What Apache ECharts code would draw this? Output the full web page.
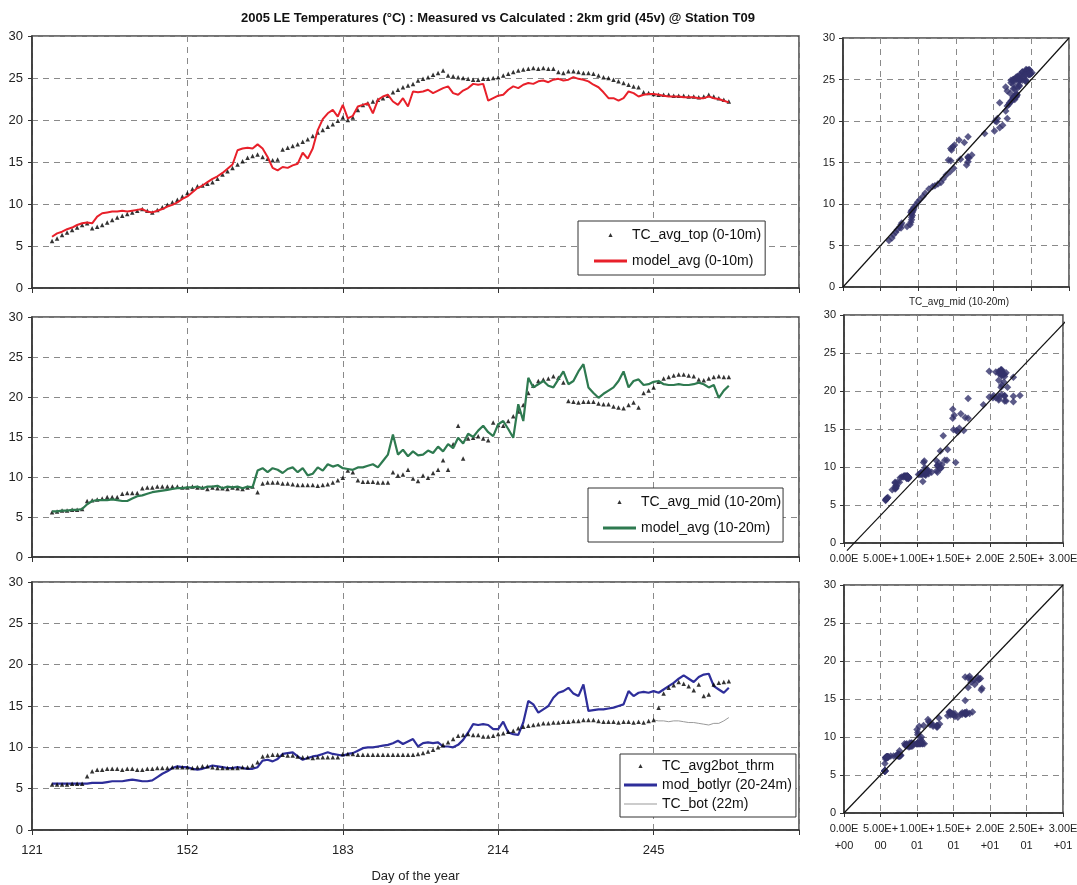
<!DOCTYPE html>
<html><head><meta charset="utf-8">
<script src="https://cdn.jsdelivr.net/npm/echarts@6/dist/echarts.min.js"></script>
<style>html,body{margin:0;padding:0;background:#fff}#c{width:1077px;height:885px}</style>
</head><body><div id="c"></div><script>
// ---------------- data (daily values, first day = DAY0) ----------------
const DAY0 = 125;
const DAY0_TCBOT22 = 245;

const tcAvgTop = [
  5.6,5.9,6.3,6.6,6.9,7.2,7.5,7.7,7.1,7.3,
  7.5,7.8,8.1,8.4,8.6,8.8,9.0,9.2,9.4,9.2,
  9.0,9.3,9.6,9.9,10.2,10.5,10.9,11.3,11.8,12.1,
  12.2,12.4,12.6,13.0,13.5,13.9,14.3,14.7,15.1,15.5,
  15.7,15.9,15.6,15.4,15.2,15.3,16.5,16.7,16.9,17.1,
  17.4,17.7,18.1,18.5,18.8,19.2,19.5,19.9,20.3,20.0,
  20.3,21.2,21.8,22.0,22.2,22.4,22.6,22.9,23.3,23.6,
  23.9,24.1,24.3,24.7,24.9,25.1,25.4,25.6,25.9,25.3,
  25.2,25.1,25.0,24.9,24.8,24.8,24.9,24.9,25.0,25.1,
  25.3,25.5,25.7,25.9,26.0,26.1,26.2,26.1,26.2,26.1,
  26.1,25.7,25.6,25.8,25.8,25.7,25.6,25.6,25.5,25.3,
  25.1,25.0,24.8,24.6,24.4,24.2,24.0,23.9,23.3,23.2,
  23.1,23.0,23.0,23.0,22.9,22.9,22.9,22.8,22.8,22.7,
  22.8,23.0,22.8,22.6,22.4,22.2
];
const modelAvgTop = [
  6.1,6.5,6.7,7.0,7.2,7.5,7.7,7.8,7.7,8.5,
  8.9,9.0,9.1,9.1,9.2,9.1,9.2,9.3,9.4,9.1,
  9.0,9.2,9.4,9.7,9.9,10.2,10.6,10.9,11.4,11.9,
  12.2,12.6,13.0,13.3,13.7,14.2,14.7,16.4,16.6,16.7,
  16.6,17.1,16.6,15.6,14.3,14.0,14.4,14.3,14.6,14.8,
  16.1,15.4,16.6,18.8,20.1,20.8,21.2,20.4,21.8,20.2,
  20.5,21.6,21.8,22.0,20.8,22.4,22.8,23.0,22.2,21.8,
  22.6,21.6,23.4,23.3,23.4,23.6,23.2,23.5,23.8,24.0,
  23.2,23.0,23.5,23.8,24.3,24.2,24.3,22.3,22.6,22.9,
  23.0,23.6,24.0,23.8,24.2,24.4,24.3,24.6,24.7,24.5,
  24.8,24.9,24.7,24.8,25.1,24.9,24.8,24.6,24.2,23.9,
  23.3,22.6,22.6,22.3,22.6,23.4,23.2,22.8,23.0,23.1,
  23.1,23.0,22.9,22.8,22.8,22.8,22.7,22.7,22.7,22.6,
  22.6,22.8,22.6,22.5,22.3,22.1
];
const tcAvgMid = [
  5.6,5.7,5.8,5.8,5.9,5.9,6.0,7.0,7.1,7.2,
  7.3,7.5,7.5,7.5,7.9,8.0,8.0,8.0,8.6,8.7,
  8.7,8.8,8.8,8.8,8.8,8.8,8.7,8.7,8.8,8.7,
  8.7,8.5,8.7,8.6,8.6,8.5,8.7,8.6,8.5,8.7,
  8.8,8.1,9.2,9.3,9.3,9.3,9.2,9.2,9.1,9.0,
  9.0,9.0,9.0,8.9,9.0,9.1,9.3,9.6,9.9,10.8,
  10.6,9.6,9.4,9.4,9.4,9.3,9.3,9.3,10.6,10.2,
  10.3,10.9,9.8,9.5,10.2,9.9,10.5,10.9,12.1,10.9,
  14.1,16.4,12.3,14.8,14.9,15.1,14.8,14.6,16.8,16.5,
  16.4,17.0,17.6,18.2,19.0,20.5,21.4,22.0,22.2,22.3,
  22.6,22.4,21.8,19.5,19.4,19.3,19.4,19.4,19.4,19.2,
  19.1,19.1,18.8,18.7,18.6,19.0,19.3,18.7,20.5,20.8,
  21.2,21.9,22.3,22.5,22.7,22.8,22.8,22.7,22.6,22.2,
  22.1,22.3,22.5,22.6,22.5,22.5
];
const modelAvgMid = [
  5.7,5.7,5.8,5.8,5.9,5.9,6.0,6.6,7.0,7.1,
  7.1,7.1,7.2,7.1,7.0,7.0,7.3,7.6,7.7,7.9,
  8.1,8.2,8.3,8.4,8.5,8.6,8.6,8.7,8.7,8.8,
  8.6,8.8,8.8,8.9,8.6,8.8,8.7,8.8,8.6,8.8,
  8.7,10.8,11.1,10.6,11.1,10.9,10.5,11.0,11.2,10.6,
  11.1,10.2,10.4,11.2,10.8,11.6,11.3,11.5,11.1,11.0,
  10.9,11.2,11.2,11.4,11.6,11.2,12.0,12.8,15.3,12.8,
  13.4,12.6,13.2,12.7,12.8,13.3,13.0,13.8,13.2,14.1,
  13.6,14.9,14.2,15.4,15.0,15.8,16.4,15.6,15.1,16.6,
  17.0,16.0,14.9,19.1,17.0,22.4,21.2,21.6,22.0,21.4,
  21.2,22.2,23.2,21.6,22.0,23.2,24.1,21.2,20.5,19.9,
  20.4,20.8,21.2,22.0,23.2,21.2,22.0,22.2,21.5,21.6,
  21.9,22.0,21.6,21.5,21.5,21.6,21.5,21.5,21.6,21.8,
  21.6,21.2,21.5,19.9,20.8,21.4
];
const tcAvg2botThrm = [
  5.5,5.5,5.5,5.5,5.6,5.6,5.6,6.5,7.1,7.3,
  7.3,7.4,7.4,7.4,7.3,7.4,7.4,7.3,7.3,7.4,
  7.4,7.5,7.5,7.5,7.6,7.6,7.6,7.6,7.5,7.6,
  7.7,7.7,7.6,7.5,7.5,7.5,7.5,7.5,7.6,7.6,
  7.8,8.2,8.9,9.0,9.1,9.1,9.1,9.0,9.0,8.9,
  8.8,8.8,8.7,8.8,8.8,8.8,8.8,8.8,9.2,9.2,
  9.2,9.1,9.1,9.1,9.1,9.1,9.1,9.1,9.1,9.1,
  9.1,9.1,9.1,9.2,9.3,9.5,9.7,10.0,10.3,10.6,
  11.0,11.4,11.5,11.6,11.5,11.5,11.3,11.3,11.4,11.6,
  11.7,11.9,12.0,12.3,12.5,12.6,12.7,12.8,12.9,12.9,
  13.0,13.0,13.1,13.1,13.2,13.2,13.3,13.3,13.3,13.2,
  13.1,13.1,13.1,13.0,13.1,13.1,13.0,13.1,13.0,13.2,
  13.3,14.8,16.5,17.2,17.5,17.9,17.7,17.4,16.9,17.6,
  16.2,16.4,17.6,17.8,17.9,18.0
];
const modBotlyr = [
  5.6,5.6,5.6,5.6,5.6,5.6,5.6,5.6,5.7,5.7,
  5.7,5.8,5.9,5.9,5.9,6.0,6.1,6.0,5.9,5.9,
  6.0,6.4,6.8,7.1,7.5,7.7,7.6,7.6,7.4,7.3,
  7.4,7.6,7.8,7.7,7.6,7.5,7.5,7.6,7.5,7.4,
  7.4,7.6,8.4,8.5,8.3,8.6,9.2,9.3,9.4,8.9,
  8.5,8.7,8.9,9.0,9.2,9.4,9.2,9.1,9.0,9.2,
  9.3,9.6,9.9,10.0,10.0,10.1,10.2,10.3,10.5,10.8,
  10.4,10.7,11.0,10.1,10.5,10.6,10.5,10.6,10.1,10.1,
  10.0,10.3,10.9,11.8,12.8,12.7,12.8,12.7,12.2,12.2,
  13.1,11.8,11.6,11.5,13.0,15.6,15.2,14.2,14.6,15.0,
  16.0,16.6,16.8,17.2,16.5,16.2,17.6,14.4,14.5,14.6,
  14.6,14.7,14.8,15.0,15.2,16.8,16.2,16.6,16.7,16.6,
  16.8,16.6,17.0,17.4,17.8,18.3,18.7,18.3,17.9,18.5,
  18.8,18.9,17.4,17.0,16.6,17.2
];
const tcBot22m = [13.3,13.2,13.2,13.1,13.2,13.2,13.1,13.0,13.0,12.9,12.8,12.7,12.9,12.9,13.2,13.6];

// tick labels
const dayTicks = [121, 152, 183, 214, 245];
const tempTicks = [0, 5, 10, 15, 20, 25, 30];
const sciLabelsMid = ['0.00E', '5.00E+', '1.00E+', '1.50E+', '2.00E', '2.50E+', '3.00E'];
const sciLabelsBot = ['0.00E\n+00', '5.00E+\n00', '1.00E+\n01', '1.50E+\n01', '2.00E\n+01', '2.50E+\n01', '3.00E\n+01'];

const NAMES = {
  tcTop: 'TC_avg_top (0-10m)', mTop: 'model_avg (0-10m)',
  tcMid: 'TC_avg_mid (10-20m)', mMid: 'model_avg (10-20m)',
  tcBot: 'TC_avg2bot_thrm', mBot: 'mod_botlyr (20-24m)', tcBot22: 'TC_bot (22m)'
};
const TITLE = '2005 LE Temperatures (°C) : Measured vs Calculated : 2km grid (45v) @ Station T09';

// ---------------- build ----------------
const FONT = '"Liberation Sans", Arial, sans-serif';
const byDay = (arr, d0) => arr.map((v, i) => [d0 + i, v]);
const xy = (model, meas) => model.map((m, i) => [m, meas[i]]).filter(p => p[0] != null && p[1] != null);

const GRID_LINE = { show: true, lineStyle: { color: '#8a8a8a', type: [6, 5], width: 1 } };
const AXIS_LINE = { show: true, lineStyle: { color: '#333', width: 1.5 } };

const grids = [
  { left: 32, top: 36, width: 767, height: 252 },
  { left: 32, top: 317, width: 767, height: 240 },
  { left: 32, top: 582, width: 767, height: 248 },
  { left: 843, top: 38, width: 226, height: 249 },
  { left: 844, top: 315, width: 219, height: 228 },
  { left: 844, top: 585, width: 219, height: 228 }
].map(g => Object.assign({ show: true, borderColor: '#444', borderWidth: 1.5, backgroundColor: '#fff', outerBoundsMode: 'none', containLabel: false }, g));

function tsX(gi, labels) {
  return {
    type: 'value', gridIndex: gi, min: 121, max: 274, interval: 31,
    axisLine: AXIS_LINE,
    axisTick: { show: true, length: 5, lineStyle: { color: '#333' } },
    axisLabel: {
      show: labels, fontSize: 13, color: '#222', fontFamily: FONT, margin: 14,
      formatter: v => dayTicks.indexOf(v) >= 0 ? String(v) : ''
    },
    splitLine: GRID_LINE,
    name: labels ? 'Day of the year' : '', nameLocation: 'middle', nameGap: 40,
    nameTextStyle: { fontSize: 13, color: '#222', fontFamily: FONT }
  };
}
function tY(gi, fs, margin) {
  return {
    type: 'value', gridIndex: gi, min: tempTicks[0], max: tempTicks[tempTicks.length - 1], interval: 5,
    axisLine: AXIS_LINE,
    axisTick: { show: true, length: 4, lineStyle: { color: '#333' } },
    axisLabel: { fontSize: fs, color: '#222', fontFamily: FONT, margin: margin },
    splitLine: GRID_LINE
  };
}
function scX(gi, labels) {
  return {
    type: 'value', gridIndex: gi, min: 0, max: 30, interval: 5,
    axisLine: AXIS_LINE,
    axisTick: { show: true, length: 4, lineStyle: { color: '#333' } },
    axisLabel: {
      show: !!labels, fontSize: 11, color: '#222', fontFamily: FONT, margin: 7, lineHeight: 17,
      formatter: v => labels ? (labels[v / 5] || '') : ''
    },
    splitLine: GRID_LINE
  };
}

const TRI = 'path://M0,0M20,20M10,7L13,13L7,13Z';
const BAR3 = 'path://M0,0L33,0L33,3L0,3Z';
const BAR1 = 'path://M0,0L33,0L33,1L0,1Z';
const legendBase = {
  orient: 'vertical', itemWidth: 33, itemHeight: 14, selectedMode: false,
  borderColor: '#333', borderWidth: 1, backgroundColor: '#fff',
  textStyle: { fontSize: 14, color: '#111', fontFamily: FONT }
};

const meas = (name, data, xi, z) => ({
  name, type: 'scatter', xAxisIndex: xi, yAxisIndex: xi, data,
  symbol: 'triangle', symbolSize: [4.5, 4.5], itemStyle: { color: '#000' }, z: z || 3, silent: true
});
const model = (name, data, xi, color, w, z) => ({
  name, type: 'line', xAxisIndex: xi, yAxisIndex: xi, data,
  symbol: 'none', lineStyle: { color, width: w }, itemStyle: { color }, z: z || 4, silent: true
});
const cloud = (data, xi) => ({
  type: 'scatter', xAxisIndex: xi, yAxisIndex: xi, data,
  symbol: 'diamond', symbolSize: 7.5, itemStyle: { color: '#33326c' }, silent: true, z: 3
});
const diag = (data, xi) => ({
  type: 'line', xAxisIndex: xi, yAxisIndex: xi, data, clip: false,
  symbol: 'none', lineStyle: { color: '#111', width: 1.2 }, silent: true, z: 5
});

const option = {
  animation: false,
  backgroundColor: '#fff',
  title: [
    { text: TITLE, left: 493, top: 7, textAlign: 'center',
      textStyle: { fontSize: 13, fontWeight: 'bold', color: '#111', fontFamily: FONT } },
    { text: NAMES.tcMid, left: 954, top: 292, textAlign: 'center',
      textStyle: { fontSize: 10, fontWeight: 'normal', color: '#222', fontFamily: FONT } }
  ],
  grid: grids,
  xAxis: [tsX(0, false), tsX(1, false), tsX(2, true), scX(3, null), scX(4, sciLabelsMid), scX(5, sciLabelsBot)],
  yAxis: [tY(0, 13, 9), tY(1, 13, 9), tY(2, 13, 9), tY(3, 11, 8), tY(4, 11, 8), tY(5, 11, 8)],
  legend: [
    Object.assign({}, legendBase, { left: 578, top: 221, itemGap: 12, padding: [7, 4, 7, 16],
      data: [{ name: NAMES.tcTop, icon: TRI }, { name: NAMES.mTop, icon: BAR3 }] }),
    Object.assign({}, legendBase, { left: 588, top: 488, itemGap: 12, padding: [7, 2, 7, 15],
      data: [{ name: NAMES.tcMid, icon: TRI }, { name: NAMES.mMid, icon: BAR3 }] }),
    Object.assign({}, legendBase, { left: 620, top: 754, itemGap: 5, padding: [5, 4, 6, 4],
      data: [{ name: NAMES.tcBot, icon: TRI }, { name: NAMES.mBot, icon: BAR3 }, { name: NAMES.tcBot22, icon: BAR1 }] })
  ],
  series: [
    meas(NAMES.tcTop, byDay(tcAvgTop, DAY0), 0, 3),
    model(NAMES.mTop, byDay(modelAvgTop, DAY0), 0, '#e8202a', 2),
    meas(NAMES.tcMid, byDay(tcAvgMid, DAY0), 1, 3),
    model(NAMES.mMid, byDay(modelAvgMid, DAY0), 1, '#2e7a50', 2.2),
    model(NAMES.mBot, byDay(modBotlyr, DAY0), 2, '#2e2e9a', 2.2, 3),
    model(NAMES.tcBot22, byDay(tcBot22m, DAY0_TCBOT22), 2, '#9a9a9a', 1, 3),
    meas(NAMES.tcBot, byDay(tcAvg2botThrm, DAY0), 2, 5),
    cloud(xy(modelAvgTop, tcAvgTop), 3),
    diag([[0, 0], [30, 30]], 3),
    cloud(xy(modelAvgMid, tcAvgMid), 4),
    diag([[0.4, -1.0], [31.2, 30]], 4),
    cloud(xy(modBotlyr, tcAvg2botThrm), 5),
    diag([[0, 0], [30, 30]], 5)
  ]
};

const chart = echarts.init(document.getElementById('c'), null, { renderer: 'canvas' });
chart.setOption(option);
</script></body></html>
